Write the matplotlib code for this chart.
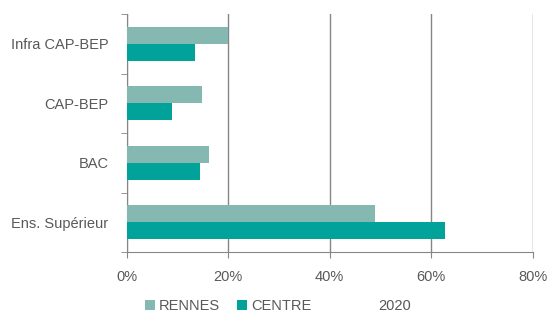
import numpy as np
import matplotlib
matplotlib.use('Agg')
import matplotlib.pyplot as plt
from matplotlib.patches import Patch

plt.rcParams['font.family'] = ['Liberation Sans', 'DejaVu Sans']

# data
categories = ['Infra CAP-BEP', 'CAP-BEP', 'BAC', 'Ens. Supérieur']
rennes = [20.0, 14.9, 16.3, 48.9]
centre = [13.5, 9.0, 14.5, 62.7]
series_names = ['RENNES', 'CENTRE']
year = '2020'
xticks = [0, 20, 40, 60, 80]

c_rennes = '#84B8B0'
c_centre = '#00A29A'
grey = '#868686'
txt = '#595959'

fig = plt.figure(figsize=(5.51, 3.14), dpi=100)
ax = fig.add_axes([0.2296, 0.197, 0.7374, 0.758])

y = np.arange(len(categories))
h = 0.285
ax.barh(y - h / 2, rennes, height=h, color=c_rennes, zorder=3)
ax.barh(y + h / 2, centre, height=h, color=c_centre, zorder=3)

ax.set_ylim(len(categories) - 0.5, -0.5)
ax.set_xlim(0, 80)
ax.set_xticks(xticks)
ax.set_xticklabels([f'{v}%' for v in xticks], color=txt, fontsize=10.5)
ax.set_yticks(y)
ax.set_yticklabels(categories, color=txt, fontsize=10.5)
ax.tick_params(axis='y', length=0, pad=13)
ax.tick_params(axis='x', length=4, color=grey, pad=9)

# boundary ticks on category axis
ax.set_yticks(np.arange(-0.5, len(categories)), minor=True)
ax.tick_params(axis='y', which='minor', length=4, color=grey)

ax.grid(axis='x', color=grey, linewidth=1, zorder=0)
for s in ['top', 'right']:
    ax.spines[s].set_visible(False)
for s in ['left', 'bottom']:
    ax.spines[s].set_color(grey)

handles = [Patch(facecolor=c_rennes, label=series_names[0]),
           Patch(facecolor=c_centre, label=series_names[1])]
fig.legend(handles=handles, loc='center left', bbox_to_anchor=(0.240, 0.026), ncol=2,
           frameon=False, fontsize=10.5, labelcolor=txt, handlelength=0.65,
           handleheight=0.65, handletextpad=0.3, columnspacing=1.15)
fig.text(378 / 551, 0.026, year, color=txt, fontsize=10.5, ha='left', va='center')

fig.savefig('out.png', dpi=100)
